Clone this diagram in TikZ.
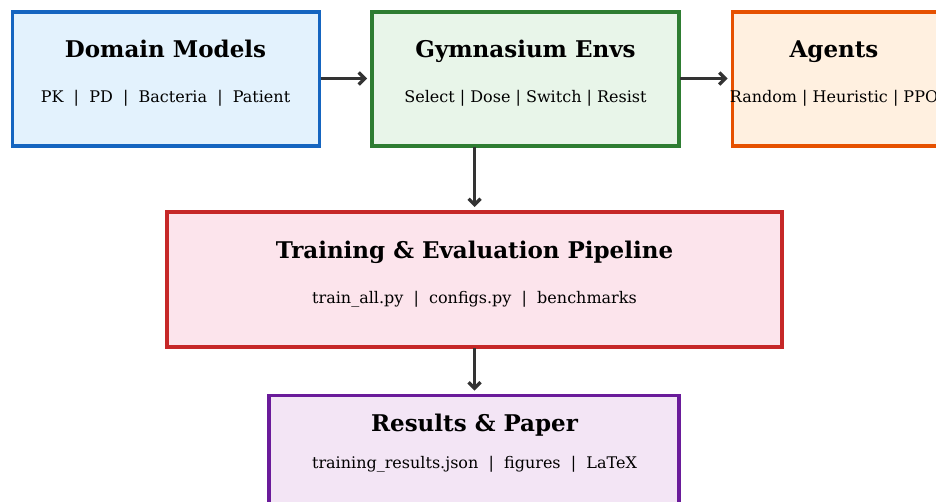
\documentclass[tikz,border=0pt]{standalone}
\usepackage{fontspec}
\setmainfont{DejaVu Serif}
\usetikzlibrary{arrows.meta}
\definecolor{bblue}{HTML}{1565C0}\definecolor{fblue}{HTML}{E3F2FD}
\definecolor{bgreen}{HTML}{2E7D32}\definecolor{fgreen}{HTML}{E8F5E9}
\definecolor{borange}{HTML}{E65100}\definecolor{forange}{HTML}{FFF0E0}
\definecolor{bred}{HTML}{C62828}\definecolor{fred}{HTML}{FCE4EC}
\definecolor{bpurple}{HTML}{6A1B9A}\definecolor{fpurple}{HTML}{F3E5F5}
\definecolor{arr}{HTML}{333333}
\tikzset{
  box/.style={rectangle, line width=3.4pt, inner sep=0pt, outer sep=0pt},
  ttl/.style={font=\fontsize{23}{27}\selectfont\bfseries, anchor=base},
  sub/.style={font=\fontsize{16}{19}\selectfont, anchor=base},
  conn/.style={draw=arr, line width=3pt, -{Straight Barb[length=6pt,width=12pt,line width=3.2pt]}, shorten >=5pt, shorten <=1pt}
}
\begin{document}
\begin{tikzpicture}[x=1pt,y=-1pt]
\useasboundingbox (0,0) rectangle (936,501);
\clip (0,0) rectangle (936,501);
% boxes
\node[box, draw=bblue, fill=fblue, minimum width=307pt, minimum height=134pt] (dm) at (166,79) {};
\node[box, draw=bgreen, fill=fgreen, minimum width=307pt, minimum height=134pt] (gym) at (525.5,79) {};
\node[box, draw=borange, fill=forange, minimum width=205pt, minimum height=134pt] (ag) at (835,79) {};
\node[box, draw=bred, fill=fred, minimum width=615pt, minimum height=135pt] (tr) at (474.5,279.5) {};
\node[box, draw=bpurple, fill=fpurple, minimum width=410pt, minimum height=140pt] (res) at (474,465.5) {};
% texts
\node[ttl] (t1) at (165.5,57) {Domain Models};
\node[sub] (s1) at (165.5,102) {PK~ |~ PD~ |~ Bacteria~ |~ Patient};
\node[ttl] (t2) at (525.5,57) {Gymnasium Envs};
\node[sub] (s2) at (525.5,102) {Select | Dose | Switch | Resist};
\node[ttl] (t3) at (834,57) {Agents};
\node[sub] (s3) at (834,102) {Random | Heuristic | PPO};
\node[ttl] (t4) at (474.5,258.5) {Training \& Evaluation Pipeline};
\node[sub] (s4) at (474.5,303) {train\_all.py~ |~ configs.py~ |~ benchmarks};
\node[ttl] (t5) at (474.5,431) {Results \& Paper};
\node[sub] (s5) at (474.5,468) {training\_results.json~ |~ figures~ |~ LaTeX};
% connectors
\draw[conn] (dm.east |- 0,78.5) -- (gym.west |- 0,78.5);
\draw[conn] (gym.east |- 0,78.5) -- (ag.west |- 0,78.5);
\draw[conn] (474.5,0 |- gym.south) -- (474.5,0 |- tr.north);
\draw[conn] (474.5,0 |- tr.south) -- (474.5,0 |- res.north);
\end{tikzpicture}
\end{document}
